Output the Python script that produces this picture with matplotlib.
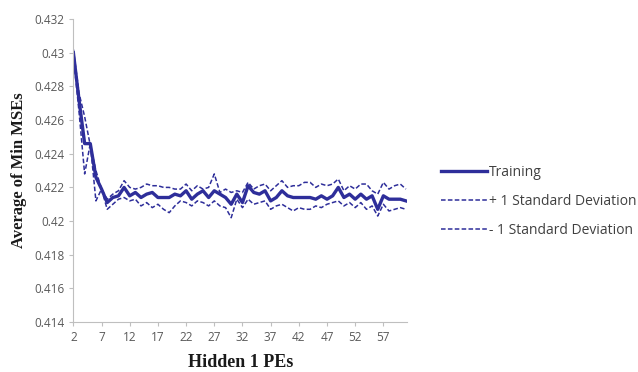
import matplotlib
matplotlib.use('Agg')
import matplotlib.pyplot as plt

# Hidden PEs on the x axis
hidden_pes = list(range(2, 62))

training = [0.4300, 0.4272, 0.4246, 0.4246, 0.4226, 0.4219, 0.4211, 0.4214, 0.4215, 0.4220,
            0.4215, 0.4217, 0.4214, 0.4216, 0.4217, 0.4214, 0.4214, 0.4214, 0.4216, 0.4215,
            0.4218, 0.4213, 0.4216, 0.4218, 0.4214, 0.4218, 0.4216, 0.4214, 0.4210, 0.4216,
            0.4211, 0.4221, 0.4217, 0.4216, 0.4218, 0.4212, 0.4214, 0.4218, 0.4215, 0.4214,
            0.4214, 0.4214, 0.4214, 0.4213, 0.4215, 0.4213, 0.4215, 0.4220, 0.4214, 0.4216,
            0.4213, 0.4216, 0.4213, 0.4215, 0.4207, 0.4215, 0.4213, 0.4213, 0.4213, 0.4212]

plus_sd = [0.4302, 0.4276, 0.4262, 0.4245, 0.4230, 0.4219, 0.4213, 0.4216, 0.4218, 0.4224,
           0.4220, 0.4219, 0.4220, 0.4222, 0.4221, 0.4221, 0.4220, 0.4220, 0.4219, 0.4219,
           0.4222, 0.4218, 0.4221, 0.4219, 0.4220, 0.4228, 0.4217, 0.4219, 0.4217, 0.4218,
           0.4217, 0.4223, 0.4219, 0.4221, 0.4222, 0.4218, 0.4221, 0.4224, 0.4220, 0.4221,
           0.4221, 0.4223, 0.4223, 0.4220, 0.4222, 0.4221, 0.4222, 0.4225, 0.4218, 0.4221,
           0.4219, 0.4222, 0.4222, 0.4218, 0.4216, 0.4223, 0.4219, 0.4221, 0.4222, 0.4219]

minus_sd = [0.4298, 0.4265, 0.4228, 0.4246, 0.4212, 0.4219, 0.4207, 0.4210, 0.4213, 0.4214,
            0.4212, 0.4213, 0.4209, 0.4211, 0.4208, 0.4210, 0.4207, 0.4205, 0.4209, 0.4212,
            0.4211, 0.4209, 0.4212, 0.4211, 0.4209, 0.4212, 0.4209, 0.4208, 0.4202, 0.4213,
            0.4208, 0.4213, 0.4210, 0.4211, 0.4212, 0.4207, 0.4209, 0.4210, 0.4208, 0.4206,
            0.4208, 0.4207, 0.4207, 0.4209, 0.4208, 0.4210, 0.4211, 0.4212, 0.4209, 0.4211,
            0.4208, 0.4211, 0.4207, 0.4209, 0.4203, 0.4210, 0.4206, 0.4207, 0.4208, 0.4207]

x_ticks = list(range(2, 61, 5))
y_ticks = [0.414, 0.416, 0.418, 0.42, 0.422, 0.424, 0.426, 0.428, 0.43, 0.432]
y_tick_labels = ['0.414', '0.416', '0.418', '0.42', '0.422', '0.424', '0.426', '0.428', '0.43', '0.432']

line_color = '#2E2E9A'
tick_font = ['Open Sans', 'DejaVu Sans']

fig = plt.figure(figsize=(6.38, 3.72), dpi=100)
ax = fig.add_axes([0.115, 0.134, 0.523, 0.815])

ax.plot(hidden_pes, training, color=line_color, linewidth=2.4, label='Training')
ax.plot(hidden_pes, plus_sd, color=line_color, linewidth=1.1, linestyle=(0, (3, 1.5)),
        label='+ 1 Standard Deviation')
ax.plot(hidden_pes, minus_sd, color=line_color, linewidth=1.1, linestyle=(0, (3, 1.5)),
        label='- 1 Standard Deviation')

ax.set_xlim(2, 61.2)
ax.set_ylim(0.414, 0.432)
ax.set_xticks(x_ticks)
ax.set_yticks(y_ticks)
ax.set_yticklabels(y_tick_labels)

for side in ['top', 'right']:
    ax.spines[side].set_visible(False)
for side in ['left', 'bottom']:
    ax.spines[side].set_color('#BFBFBF')
ax.tick_params(axis='both', colors='#BFBFBF', length=3, labelcolor='#595959', labelsize=8.5)
for lbl in ax.get_xticklabels() + ax.get_yticklabels():
    lbl.set_family(tick_font)

ax.set_xlabel('Hidden 1 PEs', family='Liberation Serif', fontweight='bold', fontsize=13,
              color='#1A1A1A', labelpad=7)
ax.set_ylabel('Average of Min MSEs', family='Liberation Serif', fontweight='bold', fontsize=12,
              color='#1A1A1A', labelpad=5)

leg = fig.legend(loc='upper left', bbox_to_anchor=(0.672, 0.59), frameon=False,
                 handlelength=3.3, handletextpad=0.15, labelspacing=1.0,
                 prop={'family': tick_font, 'size': 10})
for txt in leg.get_texts():
    txt.set_color('#404040')

fig.savefig('out.png', dpi=100)
